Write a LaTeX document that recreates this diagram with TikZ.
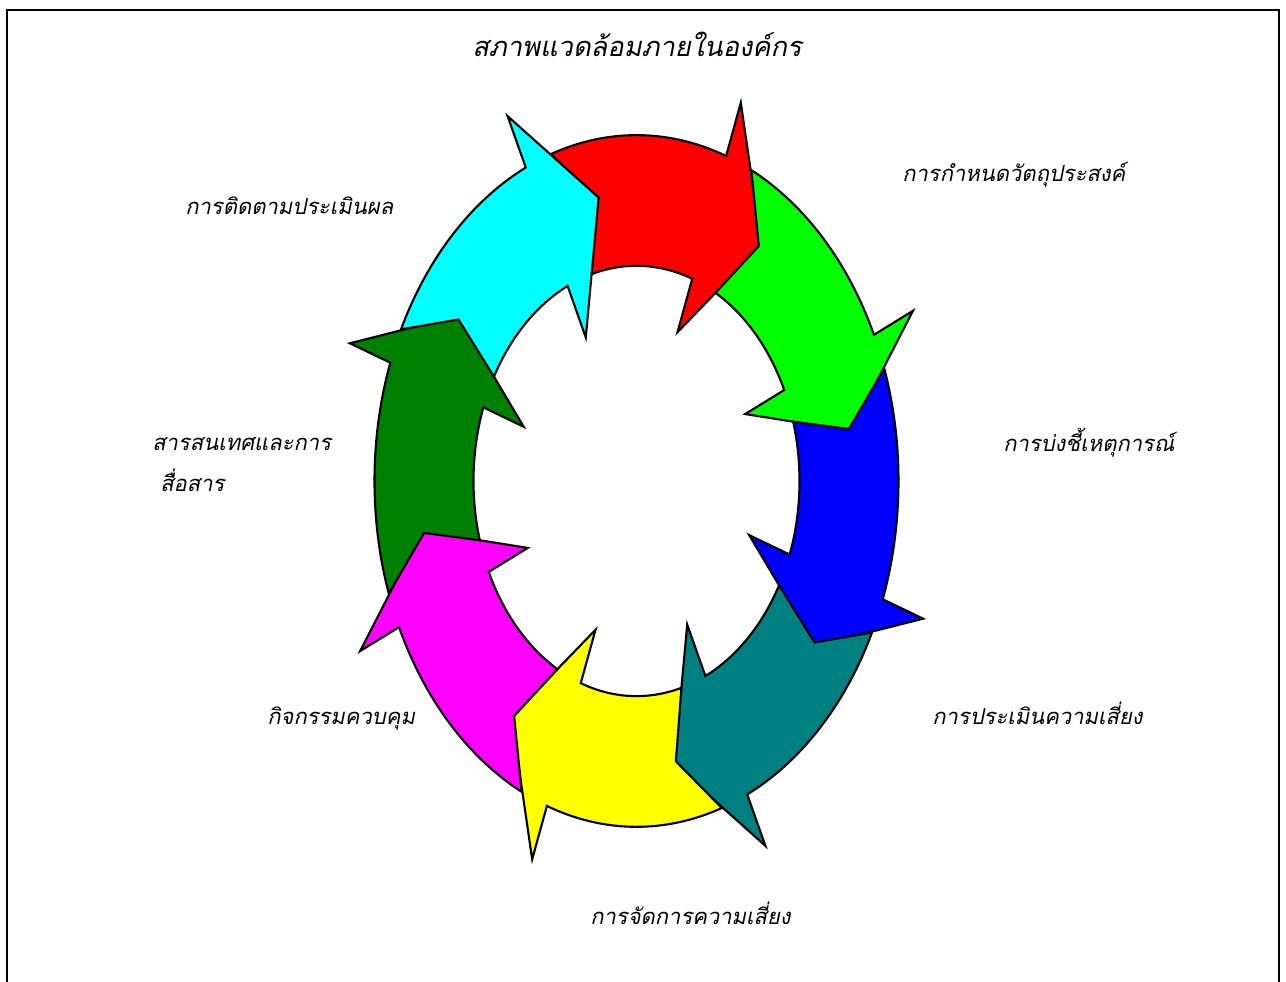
\documentclass[tikz,border=0pt]{standalone}
\usepackage{fontspec}
\newfontfamily\thaifont[Script=Thai,FakeSlant=0.2]{Loma}
\definecolor{acyan}{RGB}{0,255,255}
\definecolor{ared}{RGB}{255,0,0}
\definecolor{agreen}{RGB}{0,255,0}
\definecolor{ablue}{RGB}{0,0,255}
\definecolor{ateal}{RGB}{0,128,128}
\definecolor{ayellow}{RGB}{255,255,0}
\definecolor{amagenta}{RGB}{255,0,255}
\definecolor{adkgreen}{RGB}{0,128,0}

\begin{document}
\begin{tikzpicture}[x=0.02cm,y=0.02cm]
\tikzset{lbl/.style={font=\thaifont\fontsize{12.5}{15}\selectfont,inner sep=0pt,anchor=base west}}
\tikzset{ttl/.style={font=\thaifont\fontsize{15.5}{19}\selectfont,inner sep=0pt,anchor=base west}}
\tikzset{ring/.style={draw=black,line width=1.2pt,line join=miter}}

 \useasboundingbox (0,0) rectangle (1286,982);
 \draw[line width=1pt] (7,-20) -- (7,972) -- (1279,972) -- (1279,-20);

 % the eight arrows round the ellipse
 \begin{scope}[shift={(636.5,501)},yscale=1.32]
  \foreach \col/\b in {ared/70,agreen/25,ablue/-20,ateal/-65,ayellow/-110,amagenta/-155,adkgreen/-200,acyan/115}
   \draw[ring,fill=\col] ({\b+39}:262) arc[start angle=\b+39,end angle=\b,radius=262]
     -- (\b:305) -- ({\b-15}:218) -- (\b:120) -- (\b:163)
     arc[start angle=\b,end angle=\b+36,radius=163] -- ({\b+30.5}:216) -- cycle;
 \end{scope}

 \node[ttl] (title) at (472,925) {สภาพแวดล้อมภายในองค์กร};
 \node[lbl] (obj) at (902,800) {การกำหนดวัตถุประสงค์};
 \node[lbl] (event) at (1003,530) {การบ่งชี้เหตุการณ์};
 \node[lbl] (assess) at (932,257) {การประเมินความเสี่ยง};
 \node[lbl] (respond) at (590,57) {การจัดการความเสี่ยง};
 \node[lbl] (control) at (267,257) {กิจกรรมควบคุม};
 \node[lbl] (info1) at (152,531) {สารสนเทศและการ};
 \node[lbl] (info2) at (160,490) {สื่อสาร};
 \node[lbl] (monitor) at (185,767) {การติดตามประเมินผล};
\end{tikzpicture}
\end{document}
